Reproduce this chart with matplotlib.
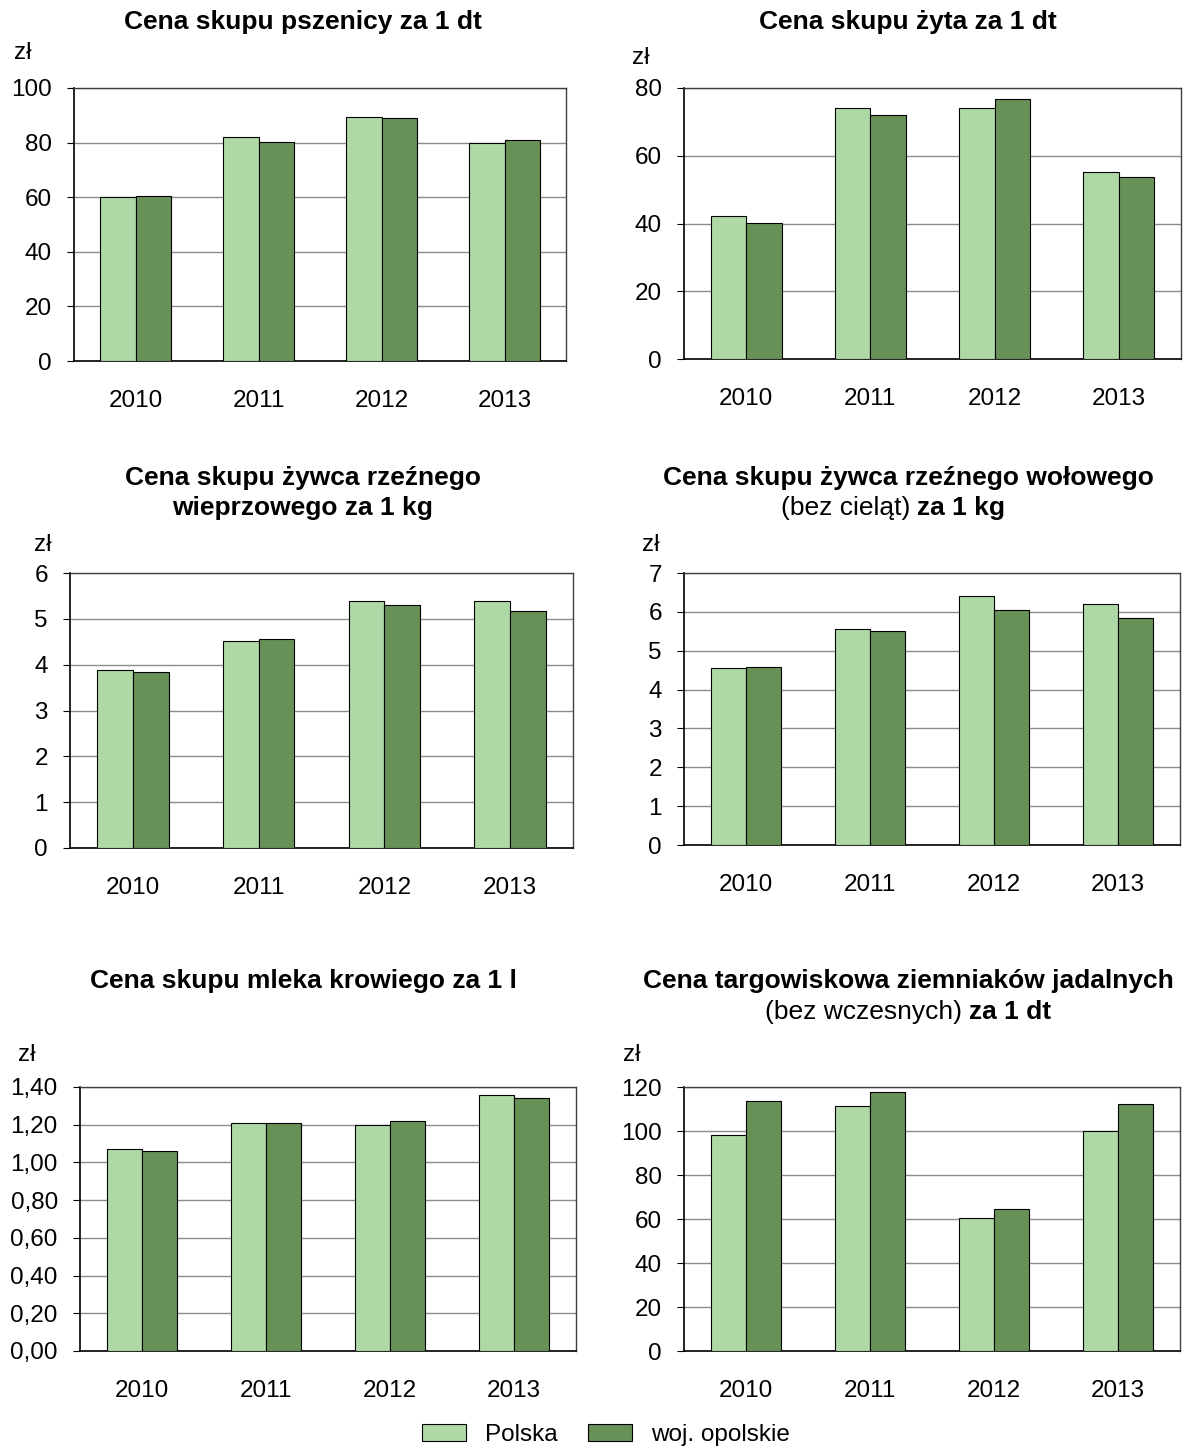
import numpy as np
import matplotlib
matplotlib.use("Agg")
import matplotlib.pyplot as plt
from matplotlib.ticker import FuncFormatter
from matplotlib.patches import Patch

plt.rcParams['font.family'] = ['Liberation Sans', 'DejaVu Sans']

years = ['2010', '2011', '2012', '2013']

pszenica_pl = [59.9, 82.0, 89.4, 79.7]
pszenica_op = [60.5, 80.4, 89.0, 80.8]

zyto_pl = [42.1, 74.2, 74.2, 55.3]
zyto_op = [40.2, 71.9, 76.8, 53.6]

wieprz_pl = [3.88, 4.52, 5.40, 5.40]
wieprz_op = [3.85, 4.57, 5.31, 5.18]

wolowe_pl = [4.56, 5.57, 6.40, 6.19]
wolowe_op = [4.59, 5.52, 6.05, 5.83]

mleko_pl = [1.07, 1.21, 1.20, 1.36]
mleko_op = [1.06, 1.21, 1.22, 1.34]

ziemniaki_pl = [98.3, 111.4, 60.5, 100.1]
ziemniaki_op = [113.5, 117.6, 64.6, 112.3]

C_PL = '#aed9a6'
C_OP = '#679156'
W, H = 1184, 1447
FS_TICK = 17.5
FS_TITLE = 19

fig = plt.figure(figsize=(W / 100, H / 100), dpi=100)


def px_axes(left, top, right, bottom):
    return fig.add_axes([left / W, 1 - bottom / H, (right - left) / W, (bottom - top) / H])


def bar_panel(box, pl, op, ymax, step, zl_xy, comma=False):
    ax = px_axes(*box)
    x = np.arange(len(years))
    w = 0.285
    ax.bar(x - w / 2, pl, w, color=C_PL, edgecolor='black', linewidth=0.8, zorder=3)
    ax.bar(x + w / 2, op, w, color=C_OP, edgecolor='black', linewidth=0.8, zorder=3)
    ax.set_xlim(-0.5, len(years) - 0.5)
    ax.set_ylim(0, ymax)
    ax.set_yticks(np.arange(0, ymax + step / 2, step))
    if comma:
        ax.yaxis.set_major_formatter(FuncFormatter(lambda v, p: f'{v:.2f}'.replace('.', ',')))
    ax.set_xticks(x)
    ax.set_xticklabels(years)
    ax.tick_params(axis='x', length=0, pad=21, labelsize=FS_TICK)
    ax.tick_params(axis='y', length=5, width=0.8, pad=11, labelsize=FS_TICK, direction='out')
    ax.grid(axis='y', color='#8c8c8c', linewidth=1.0, zorder=0)
    for s in ['left', 'bottom']:
        ax.spines[s].set_color('black')
        ax.spines[s].set_linewidth(1.2)
    for s in ['top', 'right']:
        ax.spines[s].set_color('#404040')
        ax.spines[s].set_linewidth(1.0)
    fig.text(zl_xy[0] / W, 1 - zl_xy[1] / H, 'zł', fontsize=FS_TICK, ha='center', va='center')
    return ax


def title(cx, cy, text, bold=True):
    fig.text(cx / W, 1 - cy / H, text, fontsize=FS_TITLE, ha='center', va='center',
             fontweight='bold' if bold else 'normal')


def mixed_title(cx, cy, normal, bold):
    r = fig.canvas.get_renderer()
    t1 = fig.text(0, 1 - cy / H, normal, fontsize=FS_TITLE, ha='left', va='center')
    t2 = fig.text(0, 1 - cy / H, bold, fontsize=FS_TITLE, ha='left', va='center', fontweight='bold')
    w1 = t1.get_window_extent(r).width
    w2 = t2.get_window_extent(r).width
    start = cx - (w1 + w2) / 2
    t1.set_x(start / W)
    t2.set_x((start + w1) / W)


bar_panel((74, 88, 566, 361), pszenica_pl, pszenica_op, 100, 20, (23, 53))
title(303, 22, 'Cena skupu pszenicy za 1 dt')

bar_panel((684, 88, 1181, 359), zyto_pl, zyto_op, 80, 20, (641, 58))
title(908, 22, 'Cena skupu żyta za 1 dt')

bar_panel((70, 573, 573, 848), wieprz_pl, wieprz_op, 6, 1, (43, 545))
title(303, 478, 'Cena skupu żywca rzeźnego')
title(303, 508, 'wieprzowego za 1 kg')

bar_panel((684, 573, 1180, 845), wolowe_pl, wolowe_op, 7, 1, (651, 545))
title(908, 478, 'Cena skupu żywca rzeźnego wołowego')
mixed_title(893, 508, '(bez cieląt) ', 'za 1 kg')

bar_panel((80, 1087, 576, 1351), mleko_pl, mleko_op, 1.4, 0.2, (27, 1055), comma=True)
title(303, 981, 'Cena skupu mleka krowiego za 1 l')

bar_panel((684, 1087, 1180, 1351), ziemniaki_pl, ziemniaki_op, 120, 20, (632, 1055))
title(908, 981, 'Cena targowiskowa ziemniaków jadalnych')
mixed_title(908, 1012, '(bez wczesnych) ', 'za 1 dt')

handles = [Patch(facecolor=C_PL, edgecolor='black', linewidth=0.8, label='Polska'),
           Patch(facecolor=C_OP, edgecolor='black', linewidth=0.8, label='woj. opolskie')]
fig.legend(handles=handles, loc='center', bbox_to_anchor=(606 / W, 1 - 1435 / H), ncol=2,
           frameon=False, fontsize=FS_TICK, handlelength=1.8, handleheight=0.7,
           columnspacing=1.25, handletextpad=0.8)

fig.savefig('out.png', dpi=100)
